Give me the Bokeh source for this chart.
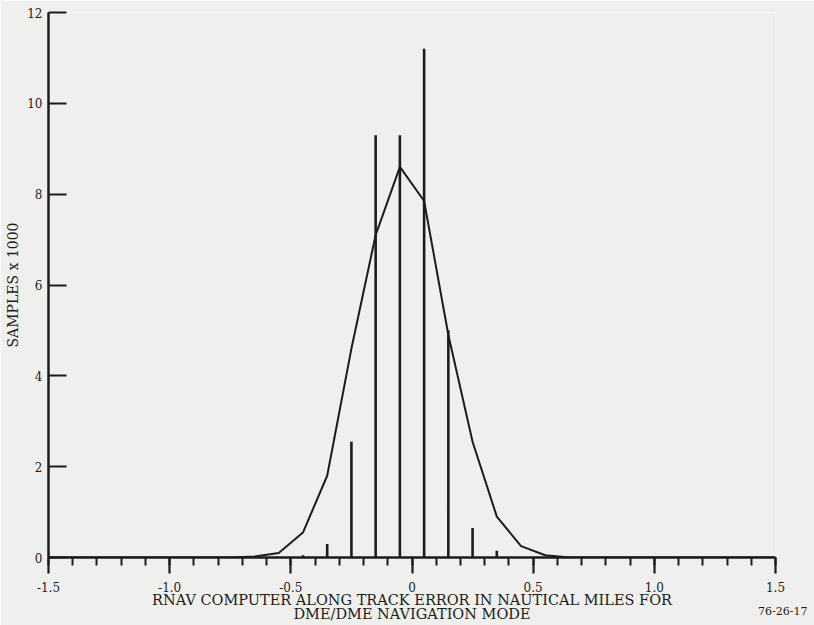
from bokeh.plotting import figure
from bokeh.models import FixedTicker, Label, Range1d
from bokeh.embed import file_html
from bokeh.resources import INLINE

# Histogram spikes (bin centres, samples x 1000)
spike_x = [-0.45, -0.35, -0.25, -0.15, -0.05, 0.05, 0.15, 0.25, 0.35]
spike_y = [0.05, 0.3, 2.55, 9.3, 9.3, 11.2, 5.0, 0.65, 0.15]

# Smoothed distribution curve
curve_x = [-1.5, -0.75, -0.65, -0.55, -0.45, -0.35, -0.25, -0.15, -0.05,
           0.05, 0.15, 0.25, 0.35, 0.45, 0.55, 0.65, 1.5]
curve_y = [0.0, 0.0, 0.02, 0.1, 0.55, 1.8, 4.6, 7.1, 8.6,
           7.85, 4.9, 2.55, 0.9, 0.25, 0.05, 0.0, 0.0]

x_ticks = [-1.5, -1.0, -0.5, 0.0, 0.5, 1.0, 1.5]
x_tick_labels = ["-1.5", "-1.0", "-0.5", "0", "0.5", "1.0", "1.5"]
x_minor = [round(-1.5 + 0.1 * i, 2) for i in range(31)]
y_ticks = [0, 2, 4, 6, 8, 10, 12]

x_title = "RNAV COMPUTER ALONG TRACK ERROR IN NAUTICAL MILES FOR\nDME/DME NAVIGATION MODE"
y_title = "SAMPLES x 1000"
code_text = "76-26-17"

BG = "#efefed"
INK = "#1c1c1c"
FONT = "DejaVu Serif"

p = figure(width=814, height=625,
           x_range=Range1d(-1.5, 1.5), y_range=Range1d(0, 12),
           output_backend="svg", toolbar_location=None,
           min_border_left=48, min_border_right=39,
           min_border_top=12, min_border_bottom=68)
p.background_fill_color = BG
p.border_fill_color = BG
p.outline_line_color = None
p.grid.visible = False

p.segment(x0=spike_x, y0=[0] * len(spike_x), x1=spike_x, y1=spike_y,
          line_color=INK, line_width=2.6)
p.line(curve_x, curve_y, line_color=INK, line_width=2)

xa = p.xaxis[0]
xa.ticker = FixedTicker(ticks=x_ticks, minor_ticks=x_minor)
xa.major_label_overrides = {t: l for t, l in zip(x_ticks, x_tick_labels)}
xa.major_tick_in = 0
xa.major_tick_out = 16
xa.minor_tick_in = 0
xa.minor_tick_out = 8
xa.axis_line_width = 2.5
xa.major_tick_line_width = 2.2
xa.minor_tick_line_width = 2
xa.axis_line_color = INK
xa.major_tick_line_color = INK
xa.minor_tick_line_color = INK
xa.major_label_text_font = FONT
xa.major_label_text_font_size = "12px"
xa.major_label_text_color = INK
xa.major_label_standoff = 8
xa.axis_label = x_title
xa.axis_label_text_font = FONT
xa.axis_label_text_font_style = "normal"
xa.axis_label_text_font_size = "14.5px"
xa.axis_label_text_color = INK
xa.axis_label_standoff = -3
xa.axis_label_text_line_height = 0.93

ya = p.yaxis[0]
ya.ticker = FixedTicker(ticks=y_ticks, minor_ticks=[])
ya.major_tick_in = 18
ya.major_tick_out = 0
ya.axis_line_width = 2.5
ya.major_tick_line_width = 2
ya.axis_line_color = INK
ya.major_tick_line_color = INK
ya.major_label_text_font = FONT
ya.major_label_text_font_size = "12px"
ya.major_label_text_color = INK
ya.major_label_standoff = 6
ya.axis_label = y_title
ya.axis_label_text_font = FONT
ya.axis_label_text_font_style = "normal"
ya.axis_label_text_font_size = "14px"
ya.axis_label_text_color = INK
ya.axis_label_standoff = 3

# figure number; kept in a side panel so that it is not clipped to the frame
p.add_layout(Label(x=1.53, y=-1.17, text=code_text, text_font=FONT,
                   text_font_size="11px", text_color=INK, text_line_height=0.9,
                   text_align="center", text_baseline="middle"), "above")

open("out.html", "w").write(file_html(p, INLINE))
